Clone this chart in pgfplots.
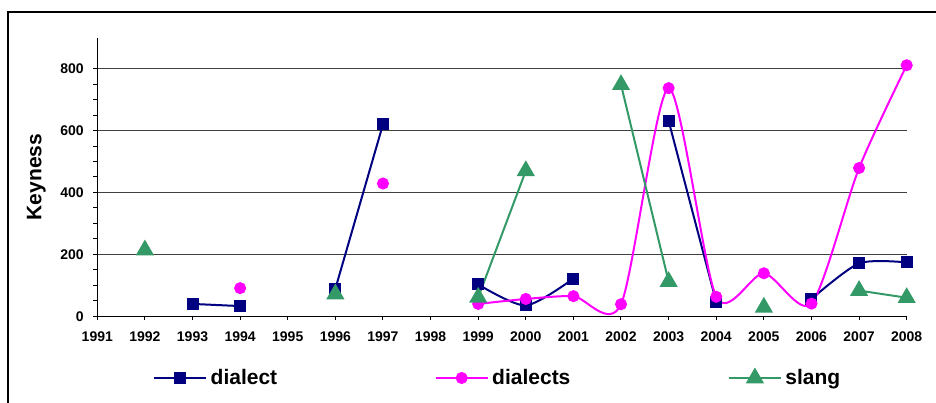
\documentclass[border=0pt]{standalone}
\usepackage{pgfplots}
\pgfplotsset{compat=1.18}
\usepackage{pgfplotstable}
\usepackage{fontspec}
\setmainfont{Liberation Sans}

\definecolor{cdialect}{RGB}{0,0,128}
\definecolor{cdialects}{RGB}{255,0,255}
\definecolor{cslang}{RGB}{51,153,102}

% keyness per year, nan = no value
\pgfplotstableread{
year dialect dialects slang
1991 nan nan nan
1992 nan nan 214
1993 40 nan nan
1994 33 91 nan
1995 nan nan nan
1996 89 nan 72
1997 620 429 nan
1998 nan nan nan
1999 103 40 61
2000 35 56 470
2001 122 65 nan
2002 nan 39 748
2003 631 737 112
2004 46 63 nan
2005 nan 139 29
2006 56 41 nan
2007 171 479 83
2008 174 811 60
}\keyness

\begin{document}
\begin{tikzpicture}
\useasboundingbox (0pt,0pt) rectangle (936pt,403pt);
\draw[line width=2pt] (8pt,-2pt) -- (8pt,391pt) -- (940pt,391pt);
\begin{axis}[
  at={(97.3pt,86.7pt)}, anchor=south west,
  scale only axis, width=809.4pt, height=278.6pt,
  xmin=1991, xmax=2008, ymin=0, ymax=900,
  axis x line*=bottom, axis y line*=left,
  axis line style={line width=1.2pt},
  xtick={1991,...,2008},
  ytick={0,200,...,800},
  minor y tick num=3,
  tick align=outside,
  major tick length=4pt, minor tick length=4pt,
  every tick/.style={black, line width=1pt},
  ymajorgrids,
  major grid style={black!75, line width=1pt},
  /pgf/number format/.cd, 1000 sep={}, assume math mode=true,
  /pgfplots/.cd,
  tick label style={font=\fontsize{14}{16}\selectfont\bfseries},
  xticklabel style={yshift=-8pt},
  yticklabel style={xshift=-6pt},
  ylabel={Keyness},
  every axis y label/.style={at={(axis description cs:0,0.5)}, xshift=-61pt,
    rotate=90, anchor=center, font=\fontsize{21}{24}\selectfont\bfseries},
  unbounded coords=jump,
  legend columns=3,
  legend style={at={(axis description cs:0.0688,-0.2215)}, anchor=west,
    draw=none, fill=none, inner sep=0pt,
    font=\fontsize{21}{24}\selectfont\bfseries,
    nodes={inner sep=3.5pt, anchor=west},
    /tikz/every even column/.append style={column sep=154pt}},
  legend image code/.code={
    \draw[#1, mark repeat=2, mark phase=2] plot coordinates {(0pt,0pt) (26pt,0pt) (52pt,0pt)};},
]
\addplot[cdialect, line width=2pt, smooth, tension=0.45, mark=square*, mark size=5pt,
  mark options={solid}] table[x=year, y=dialect] {\keyness};
\addlegendentry{dialect}
\addplot[cdialects, line width=2pt, smooth, tension=0.45, mark=*, mark size=5pt,
  mark options={solid}] table[x=year, y=dialects] {\keyness};
\addlegendentry{dialects}
\addplot[cslang, line width=2pt, mark=triangle*, mark size=8.5pt,
  mark options={solid}] table[x=year, y=slang] {\keyness};
\addlegendentry{slang}
\end{axis}
\end{tikzpicture}
\end{document}
